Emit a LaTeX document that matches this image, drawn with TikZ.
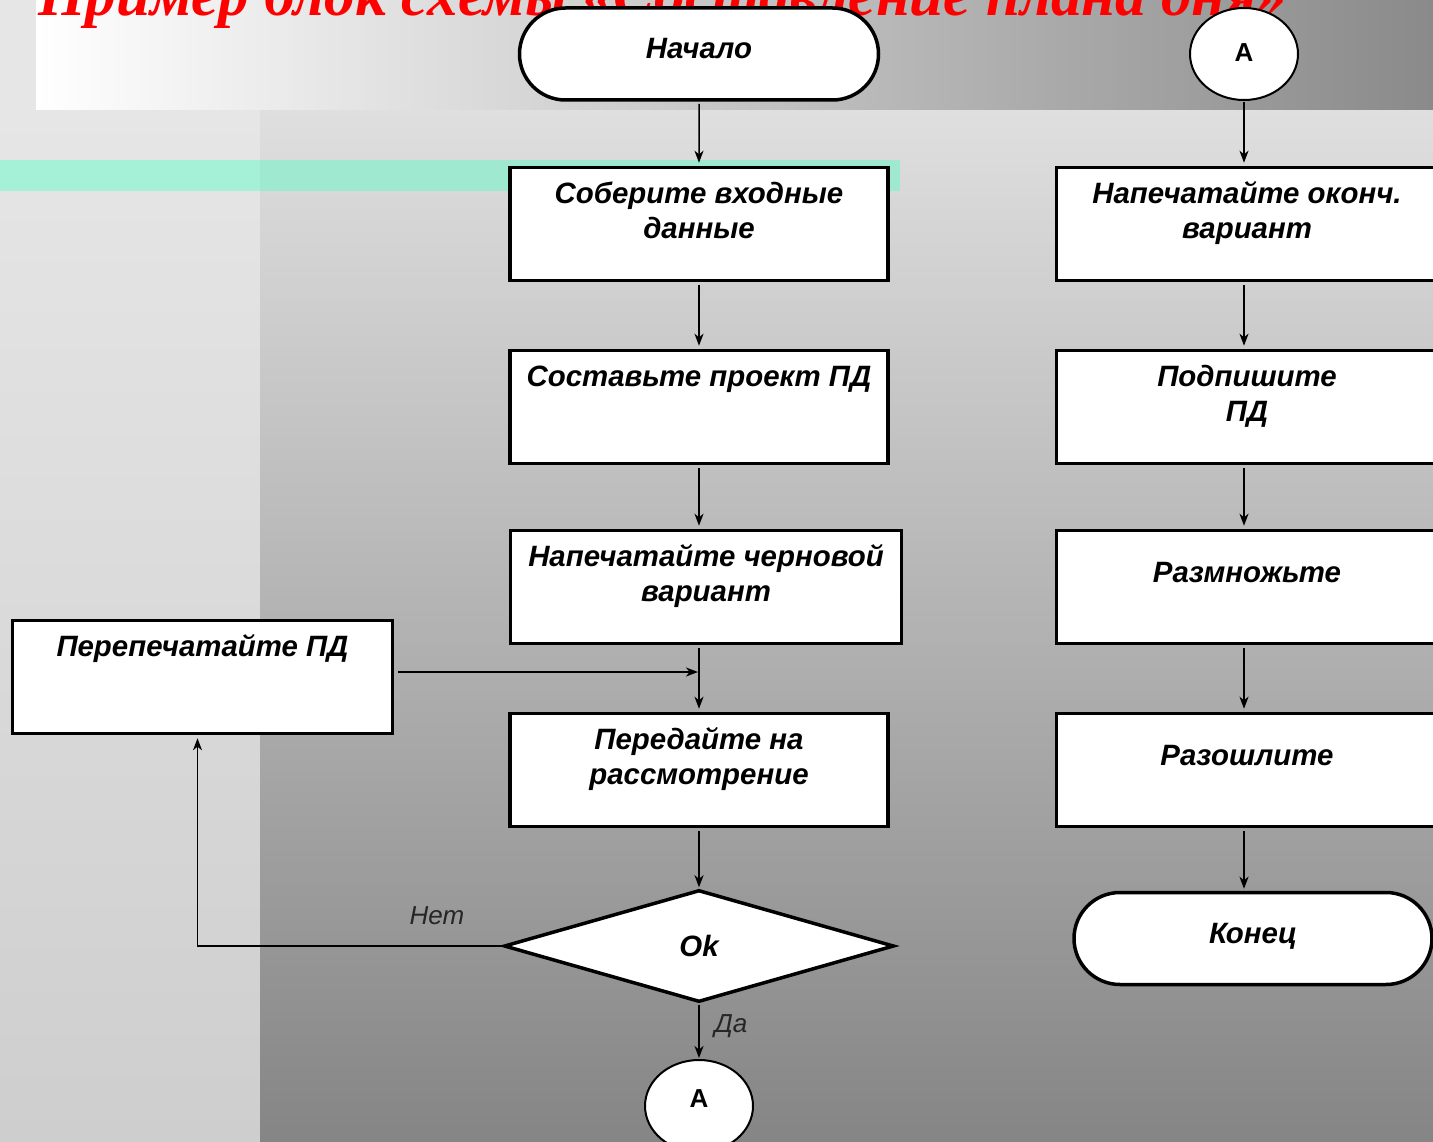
\documentclass[tikz,border=0pt]{standalone}
\usepackage{fontspec}
\setmainfont{Liberation Sans}
\newfontfamily\titlefont{Liberation Serif}
\usetikzlibrary{shapes.geometric,shapes.misc,arrows.meta}
\definecolor{bandA}{RGB}{164,241,215}
\definecolor{bandB}{RGB}{159,233,209}
\definecolor{topgray}{RGB}{138,138,138}
\definecolor{lefttop}{RGB}{230,230,230}
\definecolor{leftbot}{RGB}{206,206,206}
\definecolor{righttop}{RGB}{223,223,223}
\definecolor{rightbot}{RGB}{133,133,133}
\newcommand\bt[3][36]{\parbox[c][113pt][t]{#2pt}{\centering\rule{0pt}{#1pt}#3}}
\begin{document}
\begin{tikzpicture}[x=1pt,y=-1pt,
  box/.style={draw=black, line width=3.5pt, fill=white, inner sep=0pt, rectangle,
    font=\bfseries\itshape\fontsize{29.4}{35}\selectfont},
  term/.style={draw=black, line width=3.5pt, fill=white, rounded rectangle, inner sep=0pt,
    minimum height=92pt, text height=22pt, text depth=12pt,
    font=\bfseries\itshape\fontsize{29.4}{35}\selectfont},
  conn/.style={draw=black, line width=2pt, fill=white, ellipse, inner sep=0pt,
    minimum width=108pt, minimum height=92pt, font=\bfseries\fontsize{26}{30}\selectfont},
  dec/.style={draw=black, line width=3.5pt, fill=white, diamond, inner sep=0pt,
    minimum width=390pt, minimum height=112pt, font=\bfseries\itshape\fontsize{29.4}{35}\selectfont},
  arr/.style={line width=1.5pt, -{Stealth[length=12pt,width=9pt,inset=3.5pt]}},
  lbl/.style={inner sep=0pt, font=\itshape\fontsize{26}{30}\selectfont, text=black!85}
]
\useasboundingbox (0,0) rectangle (1433,1142);
% background
\fill[lefttop] (0,0) rectangle (36,111);
\shade[left color=white, right color=topgray] (36,0) rectangle (1433,111);
\shade[top color=lefttop, bottom color=leftbot] (0,111) rectangle (260,1142);
\shade[top color=righttop, bottom color=rightbot] (260,111) rectangle (1433,1142);
\fill[bandA] (0,160) rectangle (260,191);
\fill[bandB] (260,160) rectangle (900,191);
% title
\node[anchor=base west, text=red, inner sep=0pt,
  font=\titlefont\bfseries\itshape\fontsize{61}{63}\selectfont] (title) at (38,16)
  {Пример блок схемы «Составление плана дня»};
% left column
\node[term, minimum width=359pt] (start) at (699,54) {Начало};
\node[box] (b1) at (699,224) {\bt{378}{Соберите входные\\данные}};
\node[box] (b2) at (699,407) {\bt{378}{Составьте проект ПД}};
\node[box] (b3) at (706,587) {\bt{391}{Напечатайте черновой\\вариант}};
\node[box] (b4) at (699,770) {\bt{378}{Передайте на\\рассмотрение}};
\node[box] (pp) at (202.5,677) {\bt{380}{Перепечатайте ПД}};
\node[dec] (ok) at (699,946) {Ok};
\node[conn, text height=18.6pt, text depth=16pt] (a2) at (699,1106) {A};
% right column
\node[conn, text height=18.6pt, text depth=4pt] (a1) at (1244,54) {A};
\node[box] (r1) at (1247,224) {\bt{381}{Напечатайте оконч.\\вариант}};
\node[box] (r2) at (1247,407) {\bt{381}{Подпишите\\ПД}};
\node[box] (r3) at (1247,587) {\bt[52]{381}{Размножьте}};
\node[box] (r4) at (1247,770) {\bt[52]{381}{Разошлите}};
\node[term, minimum width=358pt] (end) at (1253,938.5) {Конец};
% connectors left
\draw[arr, shorten <=2pt, shorten >=3pt] (start) -- (b1);
\draw[arr, shorten <=3pt, shorten >=3pt] (b1) -- (b2);
\draw[arr, shorten <=3pt, shorten >=3pt] (b2.south) -- (b2.south |- b3.north);
\draw[arr, shorten <=3pt, shorten >=3pt] (b3.south -| b4.north) -- (b4.north);
\draw[arr, shorten <=4pt, shorten >=1pt] ([yshift=5pt]pp.east) -- ([yshift=5pt]pp.east -| b4.north);
\draw[arr, shorten <=3pt, shorten >=1pt] (b4) -- (ok);
\draw[arr, shorten <=1pt, shorten >=1pt] (ok) -- (a2);
\draw[arr, shorten >=3pt] (ok.west) -- ([xshift=-5pt]pp.south |- ok.west) -- ([xshift=-5pt]pp.south);
\node[lbl] (net) at (437,916) {Нет};
\node[lbl] (da) at (731,1026) {Да};
% connectors right
\draw[arr, shorten <=1pt, shorten >=3pt] (a1.south) -- (a1.south |- r1.north);
\draw[arr, shorten <=3pt, shorten >=3pt] (r1.south -| a1.south) -- (r2.north -| a1.south);
\draw[arr, shorten <=3pt, shorten >=3pt] (r2.south -| a1.south) -- (r3.north -| a1.south);
\draw[arr, shorten <=3pt, shorten >=3pt] (r3.south -| a1.south) -- (r4.north -| a1.south);
\draw[arr, shorten <=3pt, shorten >=2pt] (r4.south -| a1.south) -- (end.north -| a1.south);
\end{tikzpicture}
\end{document}
